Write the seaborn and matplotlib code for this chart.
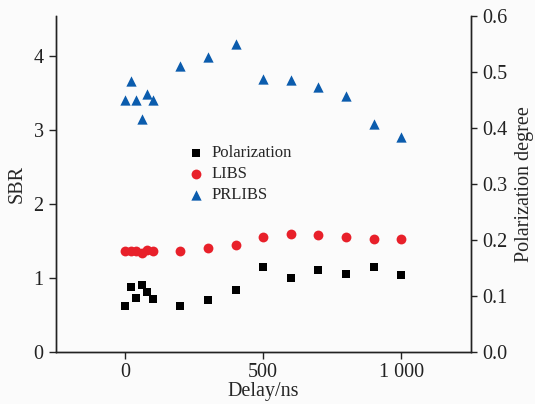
import matplotlib
matplotlib.use("Agg")
import matplotlib.pyplot as plt
import seaborn as sns
import pandas as pd

# Delay times (ns)
delay = [0, 20, 40, 60, 80, 100, 200, 300, 400, 500, 600, 700, 800, 900, 1000]

# Signal-to-background ratios (left axis)
sbr_prlibs = [3.41, 3.66, 3.41, 3.15, 3.49, 3.41, 3.86, 3.99, 4.16, 3.69, 3.68, 3.58, 3.46, 3.08, 2.91]
sbr_libs = [1.37, 1.37, 1.37, 1.34, 1.38, 1.37, 1.37, 1.41, 1.45, 1.56, 1.59, 1.58, 1.55, 1.52, 1.52]

# Polarization degree (right axis)
pol_degree = [0.083, 0.116, 0.096, 0.119, 0.107, 0.095, 0.082, 0.093, 0.111, 0.152, 0.132, 0.146, 0.139, 0.151, 0.137]

x_ticks = [0, 500, 1000]
x_tick_labels = ["0", "500", "1 000"]
left_ticks = [0, 1, 2, 3, 4]
right_ticks = [0.0, 0.1, 0.2, 0.3, 0.4, 0.5, 0.6]

df = pd.DataFrame({"delay": delay, "prlibs": sbr_prlibs, "libs": sbr_libs, "pol": pol_degree})

sns.set_theme(style="ticks")
plt.rcParams["font.family"] = ["Liberation Serif", "DejaVu Serif"]

fig = plt.figure(figsize=(5.35, 4.04), dpi=100, facecolor="#fbfbfb")
ax = fig.add_axes([0.1047, 0.1287, 0.7753, 0.8313])
ax.set_facecolor("#fbfbfb")
ax2 = ax.twinx()

sns.scatterplot(data=df, x="delay", y="pol", marker="s", color="black", s=40,
                linewidth=0, ax=ax2, label="Polarization")
sns.scatterplot(data=df, x="delay", y="libs", marker="o", color="#e8202a", s=50,
                linewidth=0, ax=ax, label="LIBS")
sns.scatterplot(data=df, x="delay", y="prlibs", marker="^", color="#0b5cad", s=55,
                linewidth=0, ax=ax, label="PRLIBS")

ax.set_xlim(-250, 1252)
ax.set_ylim(0, 4.536)
ax2.set_ylim(0, 0.6)

ax.set_xticks(x_ticks)
ax.set_xticklabels(x_tick_labels)
ax.set_yticks(left_ticks)
ax2.set_yticks(right_ticks)
ax2.set_yticklabels([f"{v:.1f}" for v in right_ticks])

for a in (ax, ax2):
    a.spines["top"].set_visible(False)
    for s in a.spines.values():
        s.set_linewidth(1.0)
        s.set_color("#222222")
ax.tick_params(axis="both", labelsize=14.5, length=5, width=1, direction="out",
               colors="#222222", pad=4)
ax.tick_params(axis="x", pad=3)
ax2.tick_params(axis="y", labelsize=14.5, length=4, width=1, direction="out",
                colors="#222222", pad=4)

ax.set_xlabel("Delay/ns", fontsize=14.5, labelpad=0)
ax.set_ylabel("SBR", fontsize=14.5, labelpad=5)
ax2.set_ylabel("Polarization degree", fontsize=14.5, labelpad=6)

h1, l1 = ax2.get_legend_handles_labels()
h2, l2 = ax.get_legend_handles_labels()
if ax.get_legend():
    ax.get_legend().remove()
if ax2.get_legend():
    ax2.get_legend().remove()
ax2.legend(h1 + h2, l1 + l2, loc="upper left", bbox_to_anchor=(0.298, 0.635),
           frameon=False, fontsize=12, handletextpad=0.3, labelspacing=0.3,
           borderaxespad=0, handlelength=1.2)

fig.savefig("out.png", dpi=100, facecolor=fig.get_facecolor())
